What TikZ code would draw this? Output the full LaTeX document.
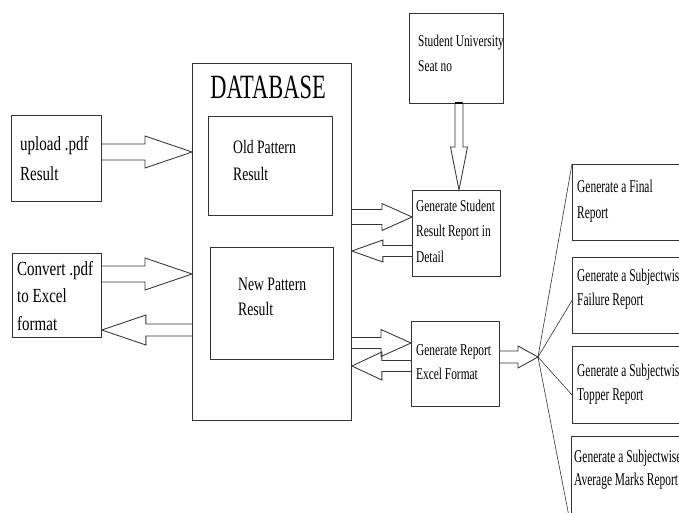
\documentclass[tikz,border=0pt]{standalone}
\usepackage{fontspec}
\setmainfont{Liberation Serif}
% condensed cuts of the serif face for the different label groups
\newfontfamily\fontIn[FakeStretch=0.75]{Liberation Serif}
\newfontfamily\fontPat[FakeStretch=0.72]{Liberation Serif}
\newfontfamily\fontMid[FakeStretch=0.69]{Liberation Serif}
\newfontfamily\fontRep[FakeStretch=0.635]{Liberation Serif}
\newfontfamily\fontDb[FakeStretch=0.66]{Liberation Serif}
\usetikzlibrary{calc}

\tikzset{
  ln/.style={draw=black!80, line width=0.85pt},
  box/.style={ln, inner sep=0pt, anchor=north west},
  % labels are placed by the baseline of their last line
  lbl/.style={inner sep=0pt, align=left, anchor=base west},
  blk/.style={ln, line join=miter},
}

% hollow block arrow: #1 tail, #2 tip, #3 half shaft width, #4 half head width, #5 head length
\newcommand\blockarrow[5]{%
  \coordinate (ba-t) at #1;
  \coordinate (ba-p) at #2;
  \coordinate (ba-h) at ($(ba-p)!#5!(ba-t)$);
  \draw[blk] ($(ba-t)!#3!90:(ba-p)$) -- ($(ba-h)!#3!90:(ba-p)$)
    -- ($(ba-h)!#4!90:(ba-p)$) -- (ba-p) -- ($(ba-h)!#4!-90:(ba-p)$)
    -- ($(ba-h)!#3!-90:(ba-p)$) -- ($(ba-t)!#3!-90:(ba-p)$);
}

\begin{document}
\begin{tikzpicture}[x=1pt, y=-1pt]
\useasboundingbox (0,0) rectangle (679,512);
\clip (0,0) rectangle (679,512);

% input boxes
\node[box, minimum width=90, minimum height=86] (upl) at (11,115) {};
\node[lbl, font=\fontIn\fontsize{20}{30}\selectfont] (uplT) at (20,180) {upload .pdf\\Result};
\node[box, minimum width=89, minimum height=84] (conv) at (12,253) {};
\node[lbl, font=\fontIn\fontsize{20}{27.5}\selectfont] (convT) at (17,330) {Convert .pdf\\to Excel\\format};

% database
\node[box, minimum width=159, minimum height=357] (db) at (192,63) {};
\node[inner sep=0pt, anchor=base, font=\fontDb\fontsize{34}{40}\selectfont] (dbT) at (268,98) {DATABASE};
\node[box, minimum width=124, minimum height=99] (old) at (208,116) {};
\node[lbl, font=\fontPat\fontsize{19}{27}\selectfont] (oldT) at (233,180) {Old Pattern\\Result};
\node[box, minimum width=123, minimum height=112] (new) at (210,247) {};
\node[lbl, font=\fontPat\fontsize{19}{25}\selectfont] (newT) at (238,315) {New Pattern\\Result};

% middle column
\node[box, minimum width=94, minimum height=90] (suni) at (409,13) {};
\node[lbl, font=\fontMid\fontsize{16.5}{25}\selectfont] (suniT) at (418,71) {Student University\\Seat no};
\node[box, minimum width=88, minimum height=86] (gsr) at (412,190) {};
\node[lbl, font=\fontMid\fontsize{16.5}{25.5}\selectfont] (gsrT) at (416,262) {Generate Student\\Result Report in\\Detail};
\node[box, minimum width=88, minimum height=85] (gre) at (411,321) {};
\node[lbl, font=\fontMid\fontsize{16.5}{24}\selectfont] (greT) at (416,379) {Generate Report\\Excel Format};

% report boxes
\node[box, minimum width=120, minimum height=76] (fin) at (572,164) {};
\node[lbl, font=\fontRep\fontsize{18}{26}\selectfont] (finT) at (577,218) {Generate a Final\\Report};
\node[box, minimum width=120, minimum height=76] (fail) at (572,257) {};
\node[lbl, font=\fontRep\fontsize{18}{24}\selectfont] (failT) at (577,305) {Generate a Subjectwise\\Failure Report};
\node[box, minimum width=120, minimum height=77] (top) at (572,346) {};
\node[lbl, font=\fontRep\fontsize{18}{24}\selectfont] (topT) at (577,400) {Generate a Subjectwise\\Topper Report};
\node[box, minimum width=120, minimum height=90] (avg) at (571,436) {};
\node[lbl, font=\fontRep\fontsize{18}{23.5}\selectfont] (avgT) at (574,485.5) {Generate a Subjectwise\\Average Marks Report};

% block arrows
\blockarrow{(upl.east |- 0,152)}{(db.west |- 0,152)}{8pt}{16pt}{47pt}
\blockarrow{(conv.east |- 0,274)}{(db.west |- 0,274)}{8pt}{16pt}{47pt}
\blockarrow{(db.west |- 0,330)}{(conv.east |- 0,330)}{6pt}{15pt}{44pt}
\blockarrow{(db.east |- 0,217)}{(gsr.west |- 0,217)}{7.5pt}{13.5pt}{30pt}
\blockarrow{(gsr.west |- 0,251)}{(db.east |- 0,251)}{5.5pt}{11pt}{31pt}
\blockarrow{(db.east |- 0,343)}{(gre.west |- 0,343)}{5.5pt}{13.5pt}{30pt}
\blockarrow{(gre.west |- 0,366)}{(db.east |- 0,366)}{5.5pt}{14pt}{30pt}
\blockarrow{(suni.south -| 459,0)}{(gsr.north -| 459,0)}{4pt}{8.5pt}{43pt}
\draw[line width=1.6pt] (455,103) -- (463,103);

% fan-out to the reports
\coordinate (fan) at (538,357);
\blockarrow{(gre.east |- 0,357)}{(fan)}{6pt}{11pt}{20pt}
\draw[ln, line width=0.6pt] (fan) -- (fin.north west);
\draw[ln, line width=0.6pt] (fan) -- ([yshift=-5pt]fail.west);
\draw[ln, line width=0.6pt] (fan) -- ([yshift=-10pt]top.west);
\draw[ln, line width=0.6pt] (fan) -- (avg.south west);
\end{tikzpicture}
\end{document}
